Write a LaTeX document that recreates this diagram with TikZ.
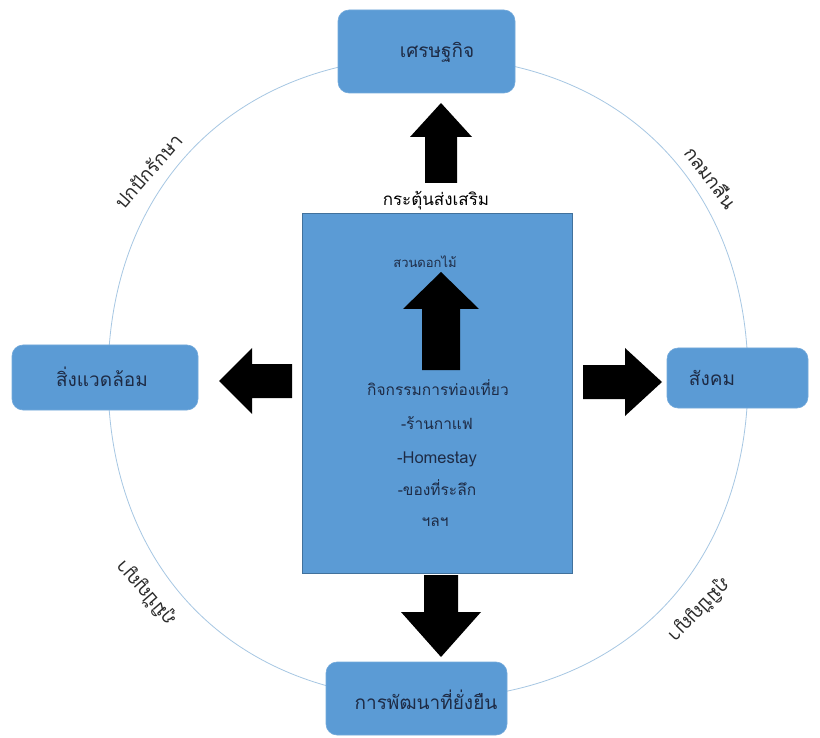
\documentclass[tikz,border=0pt]{standalone}
\usepackage{fontspec}
\newfontfamily\thaifont[Script=Thai]{Loma}
\definecolor{boxblue}{HTML}{5B9BD5}
\definecolor{boxedge}{HTML}{41719C}
\definecolor{ringblue}{HTML}{A7C7E3}
\definecolor{txtdark}{HTML}{1E2B45}
\definecolor{lbldark}{HTML}{2B2B2B}
\begin{document}
\begin{tikzpicture}[x=1pt,y=-1pt,
  rbox/.style={fill=boxblue, draw=boxblue!85!white, line width=0.6pt, rounded corners=11pt, inner sep=0pt},
  cbox/.style={fill=boxblue, draw=boxedge, line width=0.6pt, inner sep=0pt},
  boxtxt/.style={font=\thaifont\fontsize{19}{21}\selectfont, text=txtdark, inner sep=1pt},
  midtxt/.style={font=\thaifont\fontsize{15.5}{17}\selectfont, text=txtdark, inner sep=1pt},
  smalltxt/.style={font=\thaifont\fontsize{13}{15}\selectfont, text=txtdark, inner sep=1pt},
  lattxt/.style={font=\thaifont\fontsize{16.5}{18}\selectfont, text=txtdark, inner sep=1pt},
  toptxt/.style={font=\thaifont\fontsize{17}{19}\selectfont, text=black, inner sep=1pt},
  ringtxt/.style={font=\thaifont\fontsize{19}{21}\selectfont, text=lbldark, inner sep=1pt},
  blockarrow/.style={fill=black},
  ring/.style={draw=ringblue, line width=0.8pt}
]
\useasboundingbox (0,0) rectangle (820,738);
\fill[white] (0,0) rectangle (820,738);

% ring
\draw[ring] (748,378) .. controls (748,185.4) and (620,57) .. (428,57)
  .. controls (236,57) and (108,185.4) .. (108,378)
  .. controls (108,570.6) and (236,699) .. (428,699)
  .. controls (620,699) and (748,570.6) .. (748,378);

% ring labels
\node[ringtxt, rotate=49] (lblA) at (148,171) {ปกปักรักษา};
\node[ringtxt, rotate=-53] (lblB) at (711,177) {กลมกลืน};
\node[ringtxt, rotate=131] (lblC) at (146,593) {ภูมิปัญญา};
\node[ringtxt, rotate=-134] (lblD) at (699,610) {ภูมิปัญญา};

% outer boxes
\node[rbox, minimum width=177pt, minimum height=83pt] (econ) at (426.5,51.5) {};
\node[boxtxt] (econT) at (437,52) {เศรษฐกิจ};
\node[rbox, minimum width=186pt, minimum height=65pt] (env) at (105,377.5) {};
\node[boxtxt] (envT) at (102,377) {สิ่งแวดล้อม};
\node[rbox, minimum width=141pt, minimum height=60pt] (soc) at (737.5,378) {};
\node[boxtxt] (socT) at (712,378) {สังคม};
\node[rbox, minimum width=181pt, minimum height=73pt] (sust) at (416.5,698.5) {};
\node[boxtxt] (sustT) at (426,700) {การพัฒนาที่ยั่งยืน};

% centre box
\node[cbox, minimum width=270pt, minimum height=360pt] (core) at (437,393) {};

% block arrows
\fill[blockarrow] (441,103) -- (472,137) -- (457,137) -- (457,183) -- (425,183) -- (425,137) -- (410,137) -- cycle;
\fill[blockarrow] (441,272) -- (479,309) -- (460,309) -- (460,370) -- (422,370) -- (422,309) -- (403,309) -- cycle;
\fill[blockarrow] (219,381) -- (252,348) -- (252,364) -- (292,364) -- (292,398) -- (252,398) -- (252,414) -- cycle;
\fill[blockarrow] (662,382) -- (625,348) -- (625,365) -- (583,365) -- (583,399) -- (625,399) -- (625,416) -- cycle;
\fill[blockarrow] (441,657) -- (481,612) -- (458,612) -- (458,575) -- (424,575) -- (424,612) -- (401,612) -- cycle;

% texts
\node[toptxt] (stim) at (436,201) {กระตุ้นส่งเสริม};
\node[smalltxt] (garden) at (425,262) {สวนดอกไม้};
\node[midtxt] (act) at (438,388) {กิจกรรมการท่องเที่ยว};
\node[midtxt] (cafe) at (437,423) {-ร้านกาแฟ};
\node[lattxt] (home) at (437,459) {-Homestay};
\node[midtxt] (souv) at (437,488) {-ของที่ระลึก};
\node[midtxt] (etc) at (435,522) {ฯลฯ};
\end{tikzpicture}
\end{document}
